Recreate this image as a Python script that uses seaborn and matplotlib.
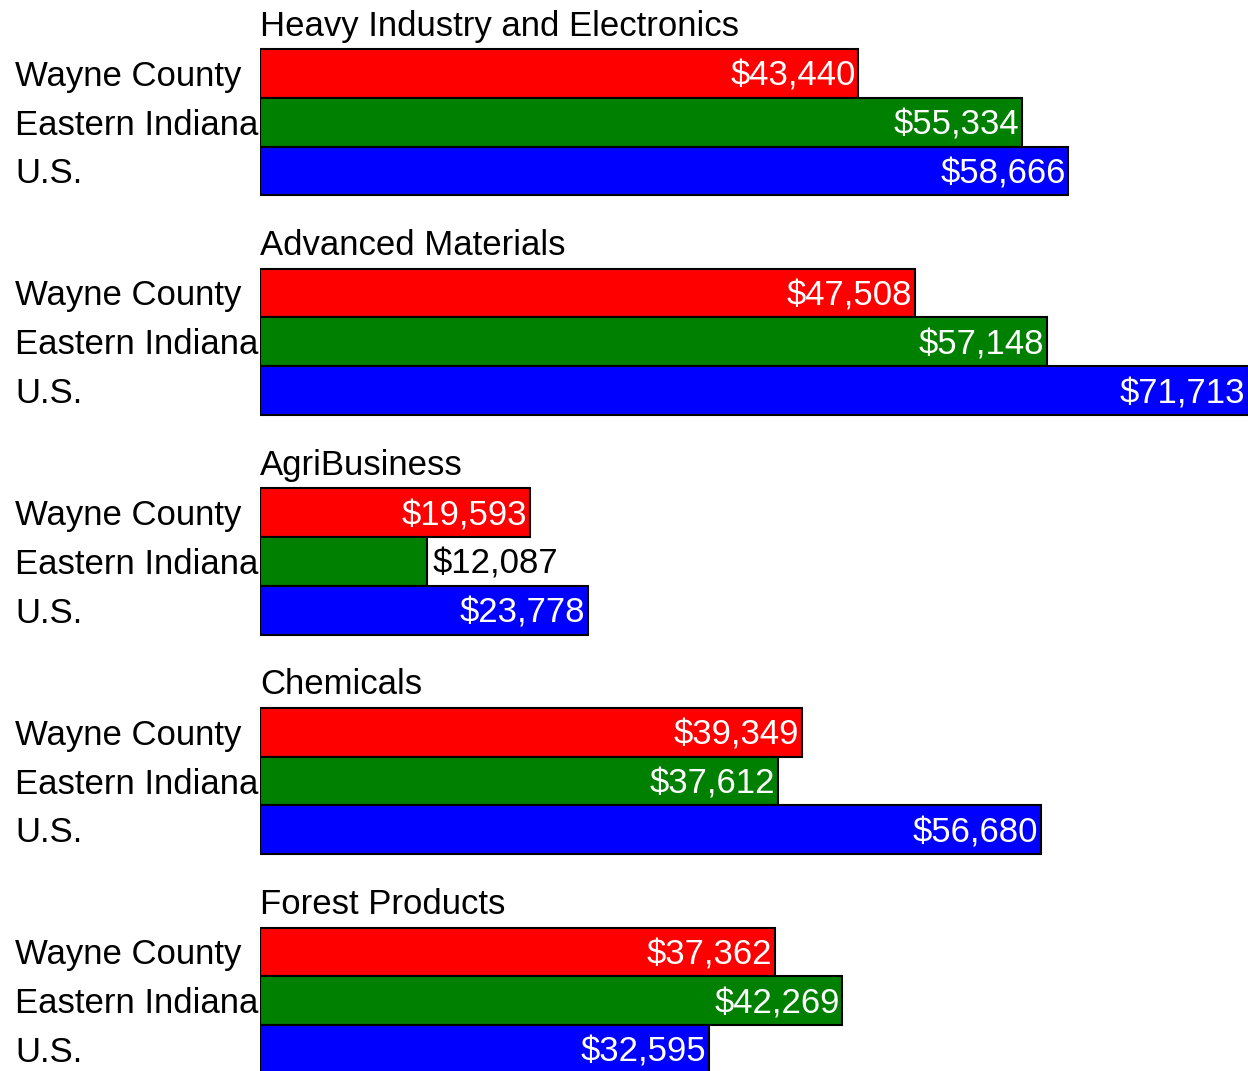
import matplotlib
matplotlib.use("Agg")
import matplotlib.pyplot as plt
import matplotlib.transforms as mtransforms
import pandas as pd
import seaborn as sns

sectors = ["Heavy Industry and Electronics", "Advanced Materials", "AgriBusiness",
           "Chemicals", "Forest Products"]
regions = ["Wayne County", "Eastern Indiana", "U.S."]
wayne = [43440, 47508, 19593, 39349, 37362]
eastern = [55334, 57148, 12087, 37612, 42269]
us = [58666, 71713, 23778, 56680, 32595]
colors = {"Wayne County": "#ff0000", "Eastern Indiana": "#008000", "U.S.": "#0000ff"}

# long table, one row per bar; pos = slot on the vertical axis
group_step = 4.5
rows = []
for g, sector in enumerate(sectors):
    for k, (reg, vals) in enumerate(zip(regions, [wayne, eastern, us])):
        rows.append({"sector": sector, "region": reg, "value": vals[g],
                     "pos": g * group_step + k})
df = pd.DataFrame(rows)

sns.set_style("white")
plt.rcParams["font.family"] = ["Liberation Sans", "DejaVu Sans"]

fig = plt.figure(figsize=(12.48, 10.71), dpi=100)
ax = fig.add_axes([260 / 1248, 0, 988 / 1248, 1])

sns.barplot(data=df, x="value", y="pos", hue="region", palette=colors, orient="h",
            native_scale=True, width=1.0, dodge=False, errorbar=None, saturation=1,
            edgecolor="black", linewidth=1.5, legend=False, ax=ax)

ax.set_xlim(0, max(us))
ax.set_ylim(20.44, -1.504)
ax.axis("off")

fs = 25
dy = 0.06  # text sits a touch below the bar centre
label_tf = mtransforms.blended_transform_factory(fig.transFigure, ax.transData)
for _, r in df.iterrows():
    ax.text(15 / 1248, r["pos"] + dy, r["region"], transform=label_tf, ha="left",
            va="center", fontsize=fs, color="black")
    txt = f"${r['value']:,}"
    if r["value"] < 15000:
        ax.annotate(txt, (r["value"], r["pos"] + dy), xytext=(4, 0), textcoords="offset points",
                    ha="left", va="center", fontsize=fs, color="black")
    else:
        ax.annotate(txt, (r["value"], r["pos"] + dy), xytext=(-2, 0), textcoords="offset points",
                    ha="right", va="center", fontsize=fs, color="white")

for g, sector in enumerate(sectors):
    ax.text(0, g * group_step - 1.03 + dy, sector, ha="left", va="center",
            fontsize=fs, color="black")

fig.savefig("out.png", dpi=100)
